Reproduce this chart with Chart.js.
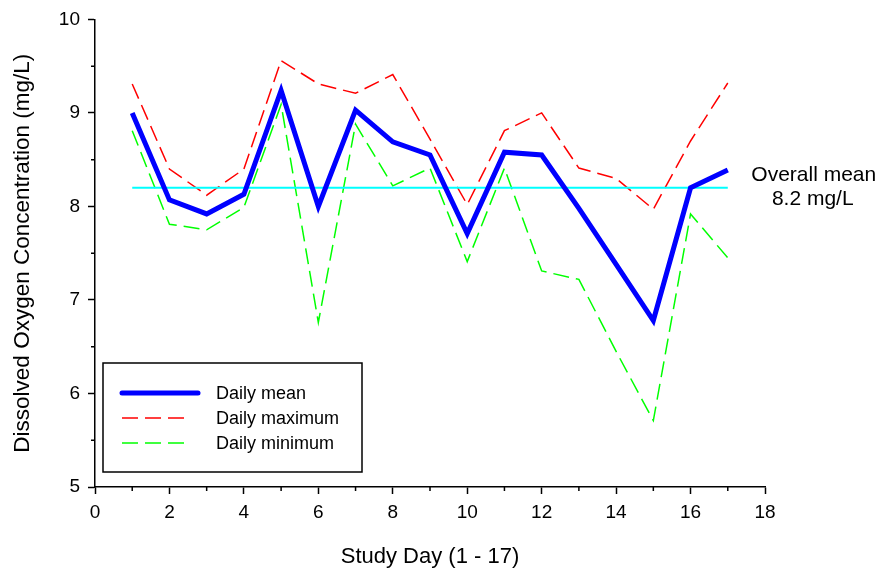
<!DOCTYPE html>
<html>
<head>
<meta charset="utf-8">
<script src="https://cdn.jsdelivr.net/npm/chart.js@4/dist/chart.umd.min.js"></script>
<style>
html,body{margin:0;padding:0;background:#fff;}
#wrap{width:883px;height:577px;position:relative;}
</style>
</head>
<body>
<div id="wrap"><canvas id="c" width="883" height="577"></canvas></div>
<script>
// ---- Data ----
const days = [1, 2, 3, 4, 5, 6, 7, 8, 9, 10, 11, 12, 13, 14, 15, 16, 17];
const dailyMean = [9.00, 8.07, 7.92, 8.13, 9.24, 8.00, 9.03, 8.69, 8.55, 7.71, 8.58, 8.55, 7.98, 7.38, 6.78, 8.20, 8.39];
const dailyMax  = [9.31, 8.40, 8.12, 8.40, 9.56, 9.31, 9.21, 9.41, 8.72, 8.02, 8.81, 9.00, 8.41, 8.30, 7.97, 8.70, 9.32];
const dailyMin  = [8.81, 7.81, 7.75, 7.99, 9.09, 6.76, 8.88, 8.22, 8.41, 7.41, 8.41, 7.31, 7.22, 6.45, 5.71, 7.92, 7.45];
const overallMean = 8.2;
const seriesLabels = ["Daily mean", "Daily maximum", "Daily minimum"];
const xTickValues = [0, 2, 4, 6, 8, 10, 12, 14, 16, 18];
const yTickValues = [5, 6, 7, 8, 9, 10];
const xMinorTicks = [1, 3, 5, 7, 9, 11, 13, 15, 17];
const yMinorTicks = [5.5, 6.5, 7.5, 8.5, 9.5];
const xTitle = "Study Day (1 - 17)";
const yTitle = "Dissolved Oxygen Concentration (mg/L)";
const annotationLines = ["Overall mean", overallMean.toFixed(1) + " mg/L"];

const FONT = "'Liberation Sans', Arial, Helvetica, sans-serif";
const toXY = arr => arr.map((v, i) => ({x: days[i], y: v}));

const minorTickPlugin = {
  id: 'minorTicks',
  afterDraw(chart) {
    const {ctx, scales: {x, y}, chartArea} = chart;
    ctx.save();
    ctx.strokeStyle = '#000';
    ctx.lineWidth = 1.5;
    ctx.beginPath();
    yMinorTicks.forEach(v => {
      const py = y.getPixelForValue(v);
      ctx.moveTo(chartArea.left - 4, py);
      ctx.lineTo(chartArea.left, py);
    });
    xMinorTicks.forEach(v => {
      const px = x.getPixelForValue(v);
      ctx.moveTo(px, chartArea.bottom);
      ctx.lineTo(px, chartArea.bottom + 4);
    });
    ctx.stroke();
    ctx.restore();
  }
};

const annotationPlugin = {
  id: 'meanAnnotation',
  afterDraw(chart) {
    const {ctx, scales: {x, y}} = chart;
    const cx = x.getPixelForValue(days[days.length - 1]) + 85;
    const cy = y.getPixelForValue(overallMean);
    ctx.save();
    ctx.fillStyle = '#000';
    ctx.font = '21px ' + FONT;
    ctx.textAlign = 'center';
    ctx.textBaseline = 'middle';
    ctx.fillText(annotationLines[0], cx + 1, cy - 13);
    ctx.fillText(annotationLines[1], cx, cy + 11);
    ctx.restore();
  }
};

const legendPlugin = {
  id: 'boxLegend',
  afterDraw(chart) {
    const {ctx, chartArea} = chart;
    const left = chartArea.left + 8, top = chartArea.bottom - 124;
    const w = 259, h = 109;
    ctx.save();
    ctx.fillStyle = '#fff';
    ctx.fillRect(left, top, w, h);
    ctx.strokeStyle = '#000';
    ctx.lineWidth = 1.5;
    ctx.strokeRect(left, top, w, h);
    const items = chart.data.datasets.filter(d => seriesLabels.includes(d.label))
      .sort((a, b) => seriesLabels.indexOf(a.label) - seriesLabels.indexOf(b.label));
    items.forEach((d, i) => {
      const ly = top + 30 + i * 25;
      ctx.beginPath();
      ctx.strokeStyle = d.borderColor;
      ctx.lineWidth = d.borderWidth;
      ctx.setLineDash(d.borderDash || []);
      ctx.lineCap = d.borderWidth > 3 ? 'round' : 'butt';
      const len = d.borderWidth > 3 ? 76 : 69;
      ctx.moveTo(left + 19, ly);
      ctx.lineTo(left + 19 + len, ly);
      ctx.stroke();
      ctx.setLineDash([]);
      ctx.fillStyle = '#000';
      ctx.font = '18px ' + FONT;
      ctx.textAlign = 'left';
      ctx.textBaseline = 'middle';
      ctx.fillText(d.label, left + 113, ly + 1);
    });
    ctx.restore();
  }
};

new Chart(document.getElementById('c'), {
  type: 'line',
  data: {
    datasets: [
      {label: seriesLabels[0], data: toXY(dailyMean), borderColor: '#0000FF', borderWidth: 5,
       borderJoinStyle: 'miter', pointRadius: 0, tension: 0, order: 0},
      {label: 'Overall mean', data: [{x: days[0], y: overallMean}, {x: days[days.length - 1], y: overallMean}],
       borderColor: '#00FFFF', borderWidth: 2, pointRadius: 0, order: 1},
      {label: seriesLabels[1], data: toXY(dailyMax), borderColor: '#FF0000', borderWidth: 1.5,
       borderDash: [16, 7], pointRadius: 0, tension: 0, order: 2},
      {label: seriesLabels[2], data: toXY(dailyMin), borderColor: '#00FF00', borderWidth: 1.5,
       borderDash: [16, 7], pointRadius: 0, tension: 0, order: 3}
    ]
  },
  options: {
    responsive: false,
    animation: false,
    devicePixelRatio: 1,
    layout: {padding: {top: 18, right: 118, left: 0, bottom: 0}},
    plugins: {legend: {display: false}, tooltip: {enabled: false}},
    scales: {
      x: {
        type: 'linear', min: 0, max: 18,
        afterBuildTicks: s => { s.ticks = xTickValues.map(v => ({value: v})); },
        afterFit: s => { s.height = 90; },
        border: {display: true, color: '#000', width: 1.5},
        grid: {drawOnChartArea: false, drawTicks: true, tickLength: 7, tickColor: '#000', tickWidth: 1.5},
        ticks: {color: '#000', font: {family: FONT, size: 19}, padding: 7, maxRotation: 0, autoSkip: false},
        title: {display: true, text: xTitle, color: '#000', font: {family: FONT, size: 22}, padding: {top: 4, bottom: 7}}
      },
      y: {
        type: 'linear', min: 5, max: 10,
        afterBuildTicks: s => { s.ticks = yTickValues.map(v => ({value: v})); },
        afterFit: s => { s.width = 95; },
        border: {display: true, color: '#000', width: 1.5},
        grid: {drawOnChartArea: false, drawTicks: true, tickLength: 7, tickColor: '#000', tickWidth: 1.5},
        ticks: {color: '#000', font: {family: FONT, size: 19}, padding: 8, autoSkip: false},
        title: {display: true, text: yTitle, color: '#000', font: {family: FONT, size: 22.5}, padding: {top: 9, bottom: 4}}
      }
    }
  },
  plugins: [minorTickPlugin, annotationPlugin, legendPlugin]
});
</script>
</body>
</html>
